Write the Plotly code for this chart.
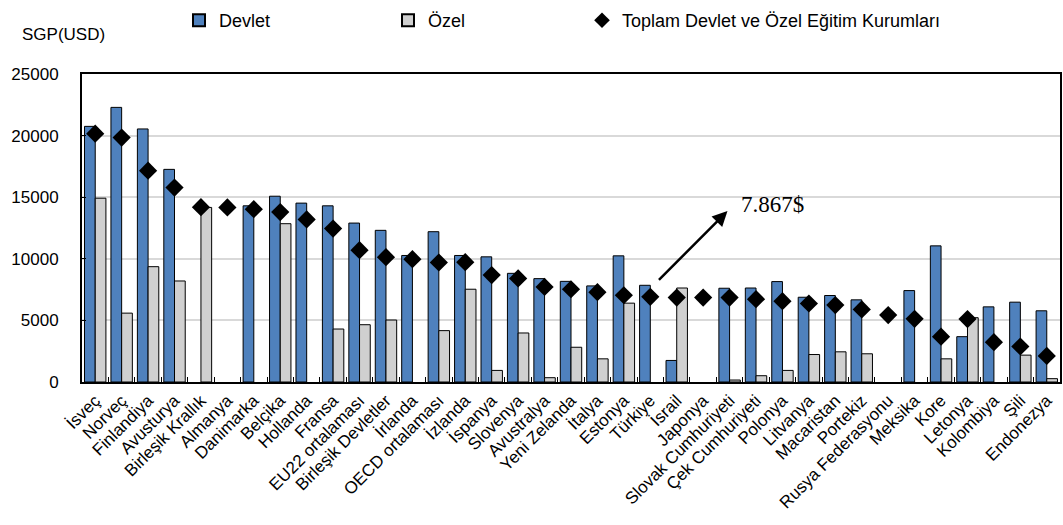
import plotly.graph_objects as go

categories = ["İsveç", "Norveç", "Finlandiya", "Avusturya", "Birleşik Krallık", "Almanya",
              "Danimarka", "Belçika", "Hollanda", "Fransa", "EU22 ortalaması",
              "Birleşik Devletler", "İrlanda", "OECD ortalaması", "İzlanda", "İspanya",
              "Slovenya", "Avustralya", "Yeni Zelanda", "İtalya", "Estonya", "Türkiye",
              "İsrail", "Japonya", "Slovak Cumhuriyeti", "Çek Cumhuriyeti", "Polonya",
              "Litvanya", "Macaristan", "Portekiz", "Rusya Federasyonu", "Meksika", "Kore",
              "Letonya", "Kolombiya", "Şili", "Endonezya"]

devlet = [20750, 22290, 20540, 17260, None, None, 14300, 15080, 14520, 14300, 12900,
          12310, 10270, 12200, 10270, 10160, 8820, 8390, 8170, 7800, 10240, 7850,
          1750, None, 7610, 7630, 8150, 6880, 7020, 6670, None, 7420, 11050,
          3680, 6100, 6480, 5780]

ozel = [14920, 5590, 9360, 8200, 14170, None, None, 12850, None, 4300, 4650,
        5030, None, 4170, 7530, 940, 3980, 350, 2820, 1880, 6400, None,
        7630, None, 160, 510, 940, 2230, 2450, 2290, None, None, 1880,
        5220, None, 2180, 270]

toplam = [20160, 19840, 17150, 15780, 14190, 14170, 14030, 13790, 13200, 12450, 10700,
          10130, 9970, 9700, 9730, 8680, 8410, 7720, 7530, 7290, 7040, 6910,
          6850, 6850, 6850, 6720, 6560, 6370, 6240, 5890, 5430, 5130, 3680,
          5110, 3230, 2880, 2120]

y_ticks = [0, 5000, 10000, 15000, 20000, 25000]
annot_text = "7.867$"

FONT = "Liberation Sans, Arial, sans-serif"

fig = go.Figure()
fig.add_trace(go.Bar(x=categories, y=devlet, name="Devlet",
                     marker=dict(color="#4F81BD", line=dict(color="#000000", width=1)),
                     legend="legend"))
fig.add_trace(go.Bar(x=categories, y=ozel, name="Özel",
                     marker=dict(color="#D0D0D0", line=dict(color="#000000", width=1)),
                     legend="legend2"))
fig.add_trace(go.Scatter(x=categories, y=toplam, name="Toplam Devlet ve Özel Eğitim Kurumları",
                         mode="markers",
                         marker=dict(symbol="diamond", size=14, color="#000000"),
                         legend="legend3"))

PW = 1063 - 82 - 3


def lx(px):
    return (px - 40 - 82) / PW


leg_common = dict(orientation="h", xref="paper", yref="paper", yanchor="top",
                  xanchor="left", y=1.0 + 71 / 309, bgcolor="rgba(0,0,0,0)",
                  font=dict(family=FONT, size=18, color="#000"),
                  itemsizing="constant")
fig.update_layout(
    width=1063, height=525,
    margin=dict(l=82, r=3, t=73, b=143),
    plot_bgcolor="white", paper_bgcolor="white",
    showlegend=True,
    barmode="group", bargap=0.19, bargroupgap=0,
    font=dict(family=FONT, size=17, color="#000"),
    legend=dict(x=lx(219), **leg_common),
    legend2=dict(x=lx(428), **leg_common),
    legend3=dict(x=lx(622), **leg_common),
    xaxis=dict(range=[-0.5, len(categories) - 0.5], autorange=False,
               showline=True, linecolor="#000", linewidth=2, mirror=True,
               ticks="inside", tickson="boundaries", ticklen=5, tickcolor="#000",
               tickangle=-45, tickfont=dict(family=FONT, size=17, color="#000"),
               showgrid=False, automargin=False),
    yaxis=dict(range=[0, 25000], tickvals=y_ticks, tickformat="d", showline=True,
               linecolor="#000", linewidth=2, mirror=True, ticks="inside", ticklen=4,
               tickcolor="#000", showgrid=True, gridcolor="#D9D9D9", gridwidth=2,
               tickfont=dict(family=FONT, size=17, color="#000"),
               ticklabelstandoff=18, zeroline=False, automargin=False),
)

fig.add_annotation(text="SGP(USD)", xref="paper", yref="paper",
                   x=(20 - 82) / PW, y=1.0 + (73 - 33) / 309, xanchor="left", yanchor="middle",
                   showarrow=False, font=dict(family=FONT, size=17, color="#000"))

fig.add_annotation(x=23.92, y=13870, ax=21.27, ay=8170, xref="x", yref="y",
                   axref="x", ayref="y", text="", showarrow=True,
                   arrowhead=2, arrowsize=1.2, arrowwidth=2.5, arrowcolor="#000")
fig.add_annotation(x=24.35, y=14400, xref="x", yref="y", text=annot_text,
                   showarrow=False, xanchor="left", yanchor="middle",
                   font=dict(family="Liberation Serif, Times New Roman, serif", size=23, color="#000"))

fig.write_html("out.html")
